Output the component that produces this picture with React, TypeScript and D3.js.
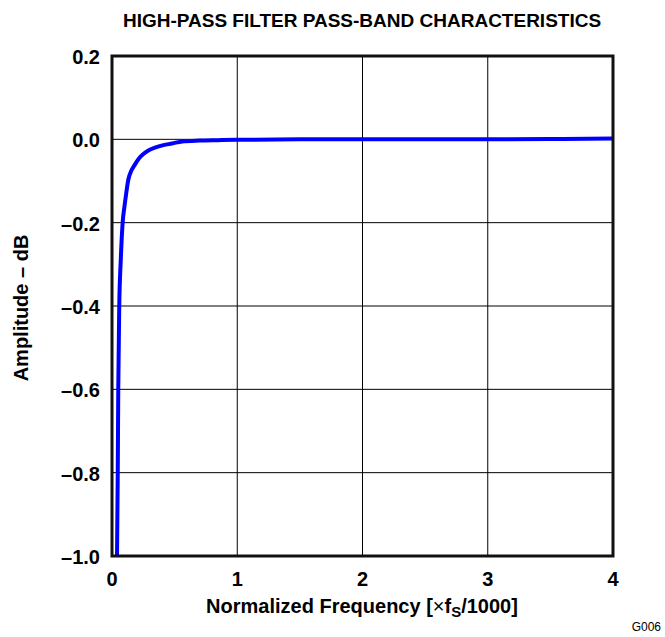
import React from 'react';
import * as d3 from 'd3';

// amplitude response
const freqs = [0.04, 0.046, 0.05, 0.058, 0.07, 0.085, 0.1, 0.112, 0.13, 0.155, 0.184, 0.215, 0.248, 0.29, 0.343, 0.41, 0.48, 0.56, 0.7, 0.85, 1.0, 1.5, 2.0, 2.5, 3.0, 3.6, 4.0];
const ampDb = [-1.0, -0.8, -0.6, -0.4, -0.29, -0.2, -0.16, -0.133, -0.097, -0.075, -0.06, -0.046, -0.036, -0.027, -0.02, -0.014, -0.01, -0.005, -0.003, -0.002, -0.001, 0, 0, 0, 0, 0.001, 0.002];

const xTicks = [0, 1, 2, 3, 4];
const yTicks = [0.2, 0.0, -0.2, -0.4, -0.6, -0.8, -1.0];

const W = 665, H = 637;
const margin = { top: 56, right: 52, bottom: 81, left: 112 };
const font = "'Liberation Sans', Arial, sans-serif";

const App = () => {
    const plotW = W - margin.left - margin.right;
    const plotH = H - margin.top - margin.bottom;

    const x = d3.scaleLinear().domain([0, 4]).range([margin.left, margin.left + plotW]);
    const y = d3.scaleLinear().domain([-1.0, 0.2]).range([margin.top + plotH, margin.top]);

    const data = freqs.map((f, i) => ({ f: f, a: ampDb[i] }));
    const linefunc = d3.line<{ f: number, a: number }>().x(d => x(d.f)).y(d => y(d.a)).curve(d3.curveMonotoneX);

    const fmt = (v: number) => (v < 0 ? '\u2013' : '') + Math.abs(v).toFixed(1);

    return (
        <svg width={W} height={H} style={{ position: 'absolute', left: 0, top: 0 }} fontFamily={font}>
            <defs>
                <clipPath id="plotClip">
                    <rect x={margin.left} y={margin.top} width={plotW} height={plotH} />
                </clipPath>
            </defs>
            <text x={362} y={27} textAnchor="middle" fontWeight="bold" fontSize={19}>HIGH-PASS FILTER PASS-BAND CHARACTERISTICS</text>

            {/* grid */}
            {xTicks.slice(1, -1).map(t => (
                <line key={'gx' + t} x1={x(t)} x2={x(t)} y1={margin.top} y2={margin.top + plotH} stroke="black" strokeWidth={1} />
            ))}
            {yTicks.slice(1, -1).map(t => (
                <line key={'gy' + t} x1={margin.left} x2={margin.left + plotW} y1={y(t)} y2={y(t)} stroke="black" strokeWidth={1} />
            ))}

            <path d={linefunc(data) || ''} fill="none" stroke="#0000ff" strokeWidth={4} strokeLinejoin="round" clipPath="url(#plotClip)" />

            {/* frame */}
            <rect x={margin.left} y={margin.top} width={plotW} height={plotH} fill="none" stroke="#111" strokeWidth={3} />

            {/* tick labels */}
            {yTicks.map(t => (
                <text key={'ty' + t} x={100} y={y(t) + 8} textAnchor="end" fontWeight="bold" fontSize={20}>{fmt(t)}</text>
            ))}
            {xTicks.map(t => (
                <text key={'tx' + t} x={x(t)} y={margin.top + plotH + 30} textAnchor="middle" fontWeight="bold" fontSize={20}>{t}</text>
            ))}

            <text transform={`translate(28,${margin.top + plotH / 2 + 2}) rotate(-90)`} textAnchor="middle" fontWeight="bold" fontSize={20}>Amplitude – dB</text>
            <text x={362} y={613} textAnchor="middle" fontWeight="bold" fontSize={20}>
                Normalized Frequency [<tspan fontWeight="normal">×</tspan>f<tspan fontSize={15} dy={4}>S</tspan><tspan dy={-4}>/1000]</tspan>
            </text>
            <text x={661} y={631} textAnchor="end" fontSize={12}>G006</text>
        </svg>
    );
};

export default App;
